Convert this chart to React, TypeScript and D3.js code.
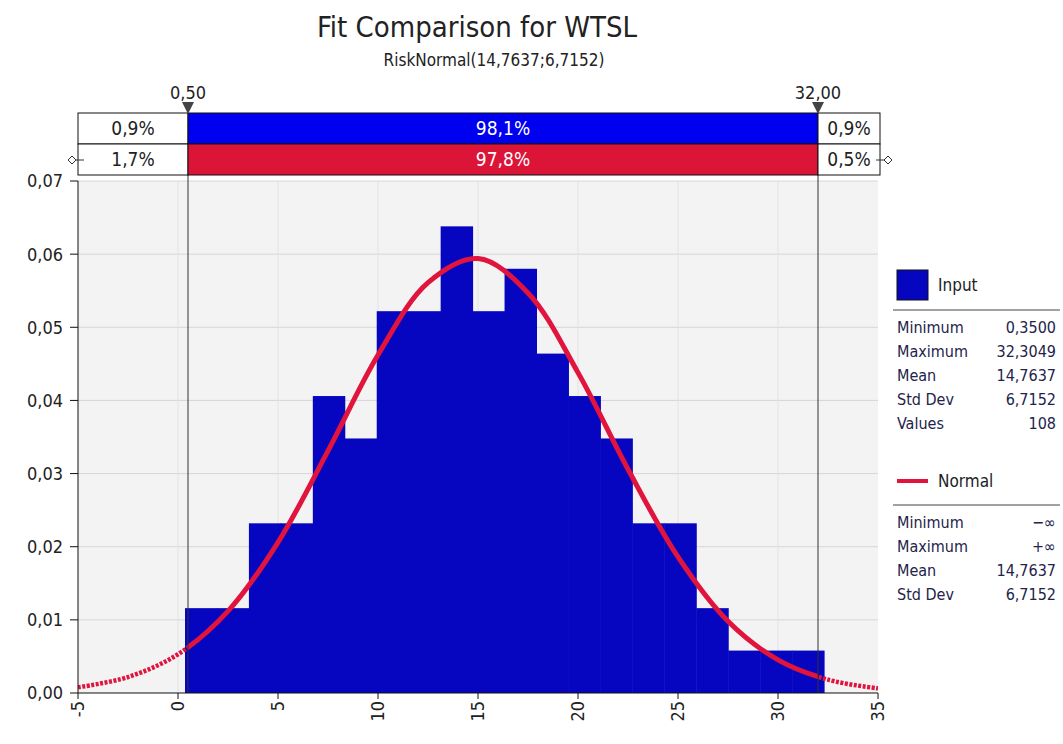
import React, { useEffect, useRef } from 'react';
import * as d3 from 'd3';

// histogram: 20 equal bins between the data min and max (density values)
const histMin = 0.35;
const histMax = 32.3049;
const densities = [
  0.0116, 0.0116, 0.0232, 0.0232, 0.0406, 0.0348, 0.0522, 0.0522, 0.0638, 0.0522,
  0.058, 0.0464, 0.0406, 0.0348, 0.0232, 0.0232, 0.0116, 0.0058, 0.0058, 0.0058,
];

// fitted normal curve, read at regular x positions
const curveX = [-5, -2.5, 0, 2.5, 5, 7.5, 10, 12.5, 15, 17.5, 20, 22.5, 25, 27.5, 30, 32.5, 35];
const curveY = [
  0.00078, 0.00218, 0.0053, 0.0112, 0.0206, 0.0331, 0.0462, 0.0561, 0.0594,
  0.0547, 0.0438, 0.0306, 0.0186, 0.0098, 0.00453, 0.00182, 0.00063,
];

const leftMarker = 0.5;
const rightMarker = 32.0;
const inputPct = ['0,9%', '98,1%', '0,9%'];
const normalPct = ['1,7%', '97,8%', '0,5%'];

const xTicks = [-5, 0, 5, 10, 15, 20, 25, 30, 35];
const yTicks = [0, 0.01, 0.02, 0.03, 0.04, 0.05, 0.06, 0.07];

const inputStats = [
  ['Minimum', '0,3500'],
  ['Maximum', '32,3049'],
  ['Mean', '14,7637'],
  ['Std Dev', '6,7152'],
  ['Values', '108'],
];
const normalStats = [
  ['Minimum', '\u2212\u221e'],
  ['Maximum', '+\u221e'],
  ['Mean', '14,7637'],
  ['Std Dev', '6,7152'],
];

const FONT = "'DejaVu Sans Condensed', 'DejaVu Sans', sans-serif";
const BLUE = '#0606c0';
const RED = '#e0143c';

export default function App() {
  const svgRef = useRef<SVGSVGElement | null>(null);

  useEffect(() => {
    const svg = d3.select(svgRef.current);
    svg.selectAll('*').remove();

    const left = 78, right = 878, top = 181, bottom = 693;
    const x = d3.scaleLinear().domain([-5, 35]).range([left, right]);
    const y = d3.scaleLinear().domain([0, 0.07]).range([bottom, top]);
    const fmt = (v: number) => v.toFixed(2).replace('.', ',');

    // title
    svg.append('text').attr('x', 477).attr('y', 37).attr('text-anchor', 'middle')
      .style('font-family', FONT).style('font-size', '29px').attr('fill', '#222')
      .text('Fit Comparison for WTSL');
    svg.append('text').attr('x', 494).attr('y', 66).attr('text-anchor', 'middle')
      .style('font-family', FONT).style('font-size', '17px').attr('fill', '#222')
      .text('RiskNormal(14,7637;6,7152)');

    // plot background and grid
    svg.append('rect').attr('x', left).attr('y', top).attr('width', right - left).attr('height', bottom - top)
      .attr('fill', '#f3f3f3');
    svg.append('g').selectAll('line').data(yTicks.slice(1)).enter().append('line')
      .attr('x1', left).attr('x2', right).attr('y1', d => y(d)).attr('y2', d => y(d))
      .attr('stroke', '#d6d6d6');
    svg.append('g').selectAll('line').data(xTicks.slice(1, -1)).enter().append('line')
      .attr('x1', d => x(d)).attr('x2', d => x(d)).attr('y1', top).attr('y2', bottom)
      .attr('stroke', '#e2e2e2');

    // histogram
    const binW = (histMax - histMin) / densities.length;
    svg.append('g').selectAll('rect').data(densities).enter().append('rect')
      .attr('x', (d, i) => x(histMin + i * binW))
      .attr('width', x(histMin + binW) - x(histMin) + 0.5)
      .attr('y', d => y(d))
      .attr('height', d => y(0) - y(d))
      .attr('fill', BLUE);

    // normal curve: solid between markers, dotted outside
    const pts = curveX.map((v, i) => [v, curveY[i]] as [number, number]);
    const line = d3.line<[number, number]>().x(d => x(d[0])).y(d => y(d[1])).curve(d3.curveCatmullRom);
    const defs = svg.append('defs');
    defs.append('clipPath').attr('id', 'clip-in').append('rect')
      .attr('x', x(leftMarker)).attr('y', top - 10).attr('width', x(rightMarker) - x(leftMarker)).attr('height', bottom - top + 20);
    const outClip = defs.append('clipPath').attr('id', 'clip-out');
    outClip.append('rect').attr('x', left).attr('y', top - 10).attr('width', x(leftMarker) - left).attr('height', bottom - top + 20);
    outClip.append('rect').attr('x', x(rightMarker)).attr('y', top - 10).attr('width', right - x(rightMarker)).attr('height', bottom - top + 20);

    svg.append('path').datum(pts).attr('d', line).attr('fill', 'none')
      .attr('stroke', RED).attr('stroke-width', 4.5).attr('clip-path', 'url(#clip-out)')
      .attr('stroke-dasharray', '3,1.5');
    svg.append('path').datum(pts).attr('d', line).attr('fill', 'none')
      .attr('stroke', RED).attr('stroke-width', 5).attr('clip-path', 'url(#clip-in)');

    // marker lines
    [leftMarker, rightMarker].forEach(m => {
      svg.append('line').attr('x1', x(m)).attr('x2', x(m)).attr('y1', 113).attr('y2', bottom)
        .attr('stroke', '#333').attr('stroke-width', 1);
    });

    // axes
    svg.append('line').attr('x1', left).attr('x2', left).attr('y1', top).attr('y2', bottom).attr('stroke', '#111');
    svg.append('line').attr('x1', left).attr('x2', right).attr('y1', bottom).attr('y2', bottom).attr('stroke', '#111');
    svg.append('g').selectAll('line').data(yTicks).enter().append('line')
      .attr('x1', left - 8).attr('x2', left).attr('y1', d => y(d)).attr('y2', d => y(d)).attr('stroke', '#111');
    svg.append('g').selectAll('text').data(yTicks).enter().append('text')
      .attr('x', 63).attr('y', d => y(d)).attr('dy', '0.36em').attr('text-anchor', 'end')
      .style('font-family', FONT).style('font-size', '18px').attr('fill', '#222')
      .text(d => fmt(d));
    svg.append('g').selectAll('line').data(xTicks).enter().append('line')
      .attr('x1', d => x(d)).attr('x2', d => x(d)).attr('y1', bottom).attr('y2', bottom + 6).attr('stroke', '#111');
    svg.append('g').selectAll('text').data(xTicks).enter().append('text')
      .attr('transform', d => `translate(${x(d)},${bottom + 8}) rotate(-90)`)
      .attr('dy', '0.36em').attr('text-anchor', 'end')
      .style('font-family', FONT).style('font-size', '18px').attr('fill', '#222')
      .text(d => String(d));

    // percentage bars on top
    const bx0 = left, bx1 = x(leftMarker), bx2 = x(rightMarker), bx3 = 880;
    const rows = [
      { y0: 113, pct: inputPct, fill: '#0000f0' },
      { y0: 144, pct: normalPct, fill: '#dc1438' },
    ];
    rows.forEach(r => {
      const h = 31;
      svg.append('rect').attr('x', bx0).attr('y', r.y0).attr('width', bx1 - bx0).attr('height', h)
        .attr('fill', '#fff').attr('stroke', '#111');
      svg.append('rect').attr('x', bx1).attr('y', r.y0).attr('width', bx2 - bx1).attr('height', h)
        .attr('fill', r.fill).attr('stroke', '#111');
      svg.append('rect').attr('x', bx2).attr('y', r.y0).attr('width', bx3 - bx2).attr('height', h)
        .attr('fill', '#fff').attr('stroke', '#111');
      const cy = r.y0 + h / 2;
      const centers = [(bx0 + bx1) / 2, (bx1 + bx2) / 2, (bx2 + bx3) / 2];
      r.pct.forEach((p, i) => {
        svg.append('text').attr('x', centers[i]).attr('y', cy).attr('dy', '0.36em').attr('text-anchor', 'middle')
          .style('font-family', FONT).style('font-size', '19px')
          .attr('fill', i === 1 ? '#fff' : '#222').text(p);
      });
    });

    // marker handles on the second row
    const handles = [
      { hx: 72, lx: 84 },
      { hx: 888, lx: 876 },
    ];
    handles.forEach(hd => {
      svg.append('line').attr('x1', hd.hx).attr('x2', hd.lx).attr('y1', 160).attr('y2', 160).attr('stroke', '#333');
      svg.append('path')
        .attr('d', `M${hd.hx - 4},160 L${hd.hx},156 L${hd.hx + 4},160 L${hd.hx},164 Z`)
        .attr('fill', '#fff').attr('stroke', '#333');
    });

    // triangle markers and their labels
    [leftMarker, rightMarker].forEach(m => {
      const mx = x(m);
      svg.append('path').attr('d', `M${mx - 6},102 L${mx + 6},102 L${mx},114 Z`).attr('fill', '#444');
      svg.append('text').attr('x', mx).attr('y', 99).attr('text-anchor', 'middle')
        .style('font-family', FONT).style('font-size', '18px').attr('fill', '#222')
        .text(fmt(m));
    });

    // legend
    const lg = svg.append('g');
    const lx = 897, vx = 1056;
    lg.append('rect').attr('x', lx).attr('y', 270).attr('width', 31).attr('height', 30)
      .attr('fill', BLUE).attr('stroke', '#111');
    lg.append('text').attr('x', 938).attr('y', 285).attr('dy', '0.36em')
      .style('font-family', FONT).style('font-size', '17px').attr('fill', '#222').text('Input');
    lg.append('line').attr('x1', 893).attr('x2', 1060).attr('y1', 310).attr('y2', 310).attr('stroke', '#444');
    const drawStats = (stats: string[][], y0: number) => {
      stats.forEach((s, i) => {
        const yy = y0 + i * 24;
        lg.append('text').attr('x', lx).attr('y', yy).attr('dy', '0.36em')
          .style('font-family', FONT).style('font-size', '16px').attr('fill', '#23234a').text(s[0]);
        lg.append('text').attr('x', vx).attr('y', yy).attr('dy', '0.36em').attr('text-anchor', 'end')
          .style('font-family', FONT).style('font-size', '16px').attr('fill', '#23234a').text(s[1]);
      });
    };
    drawStats(inputStats, 327);
    lg.append('line').attr('x1', lx).attr('x2', 928).attr('y1', 481).attr('y2', 481)
      .attr('stroke', RED).attr('stroke-width', 4);
    lg.append('text').attr('x', 938).attr('y', 481).attr('dy', '0.36em')
      .style('font-family', FONT).style('font-size', '17px').attr('fill', '#222').text('Normal');
    lg.append('line').attr('x1', 893).attr('x2', 1060).attr('y1', 505).attr('y2', 505).attr('stroke', '#444');
    drawStats(normalStats, 522);
  }, []);

  return (
    <div style={{ position: 'absolute', left: 0, top: 0 }}>
      <svg ref={svgRef} width={1063} height={744} style={{ display: 'block', background: '#fff' }} />
    </div>
  );
}
